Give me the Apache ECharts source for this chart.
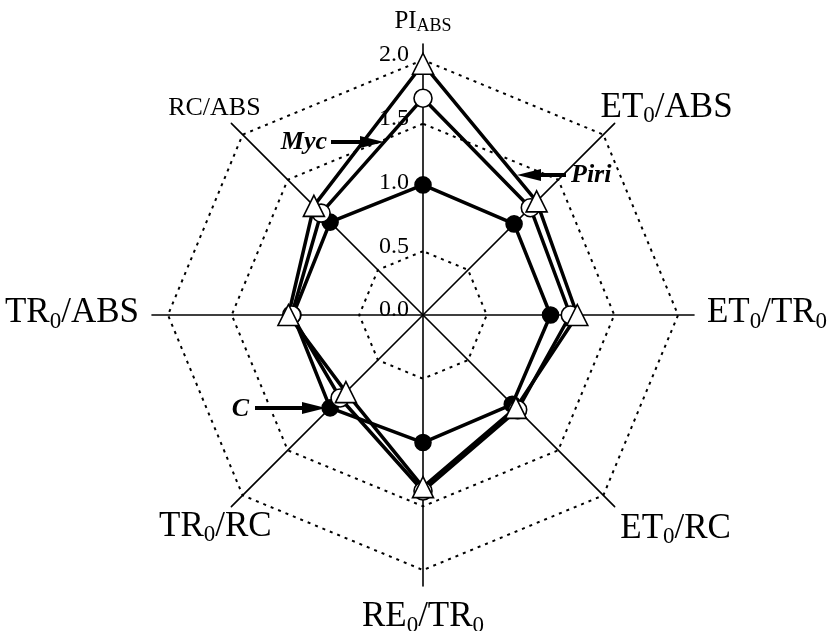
<!DOCTYPE html>
<html>
<head>
<meta charset="utf-8">
<script src="https://cdn.jsdelivr.net/npm/echarts@6/dist/echarts.min.js"></script>
<style>
  html, body { margin: 0; padding: 0; background: #fff; }
  #chart { width: 836px; height: 631px; }
</style>
</head>
<body>
<div id="chart"></div>
<script>
// Radar axes, listed counter-clockwise from the top (ECharts radar order)
const indicatorKeys = ['PI_ABS', 'RC/ABS', 'TR0/ABS', 'TR0/RC', 'RE0/TR0', 'ET0/RC', 'ET0/TR0', 'ET0/ABS'];
// Series values on each axis, same order
const valuesC    = [1.02, 1.03, 1.02, 1.03, 1.00, 0.99, 1.00, 1.01];
const valuesMyc  = [1.70, 1.13, 1.03, 0.92, 1.38, 1.05, 1.155, 1.19];
const valuesPiri = [1.97, 1.21, 1.055, 0.855, 1.35, 1.03, 1.21, 1.26];
// Dotted reference rings and scale labels
const ringLevels = [0.5, 1.5, 2.0];
const tickLabels = ['0.0', '0.5', '1.0', '1.5', '2.0'];
const tickStep = 0.5;
const axisMax = 2.125;

// Rich-text axis titles (subscripts as separate tokens)
const axisTitles = {
  'PI_ABS':  '{p|PI}{ps|ABS}',
  'RC/ABS':  '{r|RC/ABS}',
  'TR0/ABS': '{b|TR}{s|0}{b|/ABS}',
  'TR0/RC':  '{b|TR}{s|0}{b|/RC}',
  'RE0/TR0': '{b|RE}{s|0}{b|/TR}{s|0}',
  'ET0/RC':  '{b|ET}{s|0}{b|/RC}',
  'ET0/TR0': '{b|ET}{s|0}{b|/TR}{s|0}',
  'ET0/ABS': '{b|ET}{s|0}{b|/ABS}'
};

const SERIF = "'Liberation Serif', 'Times New Roman', 'DejaVu Serif', serif";
const CX = 423, CY = 315, R = 271;

// Title placement: offset of the title centre from the end of its axis
const titleOffsets = [
  [0, -23], [-17, -15], [-80, -2], [-16, 20],
  [0, 31], [61, 22], [73, -2], [52, -16]
];

const richStyles = {
  b:  { fontFamily: SERIF, fontSize: 35, lineHeight: 35, color: '#000' },
  s:  { fontFamily: SERIF, fontSize: 23, lineHeight: 23, padding: [17, 0, 0, 0], color: '#000' },
  p:  { fontFamily: SERIF, fontSize: 25, lineHeight: 25, color: '#000' },
  ps: { fontFamily: SERIF, fontSize: 18, lineHeight: 18, padding: [11, 0, 0, 0], color: '#000' },
  r:  { fontFamily: SERIF, fontSize: 26, lineHeight: 26, color: '#000' }
};

function axisEnd(i) {
  const a = (90 + i * 45) * Math.PI / 180;
  return [CX + R * Math.cos(a), CY - R * Math.sin(a)];
}

const titleGraphics = indicatorKeys.map((key, i) => {
  const e = axisEnd(i);
  return {
    type: 'text',
    x: e[0] + titleOffsets[i][0],
    y: e[1] + titleOffsets[i][1],
    style: {
      text: axisTitles[key],
      rich: richStyles,
      align: 'center',
      verticalAlign: 'middle'
    }
  };
});

// Arrow annotations naming each series
function arrow(label, textX, textY, x0, x1, y, align) {
  const dir = x1 > x0 ? 1 : -1;
  const head = 24;
  return [
    {
      type: 'text', x: textX, y: textY,
      style: {
        text: label, fill: '#000', align: align, verticalAlign: 'middle',
        font: 'italic bold 26px ' + SERIF
      }
    },
    {
      type: 'line',
      shape: { x1: x0, y1: y, x2: x1 - dir * head, y2: y },
      style: { stroke: '#000', lineWidth: 4 }
    },
    {
      type: 'polygon',
      shape: { points: [[x1, y], [x1 - dir * head, y - 6], [x1 - dir * head, y + 6]] },
      style: { fill: '#000' }
    }
  ];
}

const annotationGraphics = [].concat(
  arrow('Myc', 327, 142, 331, 384, 142, 'right'),
  arrow('Piri', 571, 175, 566, 517, 175, 'left'),
  arrow('C', 249, 409, 255, 326, 408, 'right')
);

const indicators = indicatorKeys.map((key, i) => {
  const ind = { name: key, min: 0, max: axisMax };
  if (i === 0) {
    ind.axisLabel = { show: true };
  }
  return ind;
});

const ringSeries = ringLevels.map(level => ({
  type: 'radar',
  silent: true,
  symbol: 'none',
  lineStyle: { color: '#000', width: 2, type: [3, 5] },
  data: [{ value: indicatorKeys.map(() => level) }],
  z: 1
}));

function dataSeries(name, values, symbol, size, fill) {
  return {
    type: 'radar',
    name: name,
    symbol: symbol,
    symbolSize: size,
    lineStyle: { color: '#000', width: 3.5 },
    itemStyle: { color: fill, borderColor: '#000', borderWidth: 1.6 },
    data: [{ value: values }],
    z: 3
  };
}

const chart = echarts.init(document.getElementById('chart'), null, { renderer: 'canvas' });
chart.setOption({
  backgroundColor: '#fff',
  animation: false,
  radar: {
    center: [CX, CY],
    radius: R,
    startAngle: 90,
    shape: 'polygon',
    splitNumber: 17,
    indicator: indicators,
    axisName: { show: false },
    axisLine: { lineStyle: { color: '#000', width: 1.6 } },
    axisTick: { show: false },
    splitLine: { show: false },
    splitArea: { show: false },
    axisLabel: {
      show: false,
      color: '#000',
      fontFamily: SERIF,
      fontSize: 24,
      lineHeight: 10,
      margin: 14,
      align: 'right',
      verticalAlign: 'bottom',
      formatter: function (v) {
        const k = Math.round(v / tickStep);
        if (Math.abs(v - k * tickStep) < 1e-6 && k < tickLabels.length) return tickLabels[k];
        return '';
      }
    }
  },
  series: ringSeries.concat([
    dataSeries('C', valuesC, 'circle', 16, '#000'),
    dataSeries('Myc', valuesMyc, 'circle', 18, '#fff'),
    dataSeries('Piri', valuesPiri, 'triangle', 21, '#fff')
  ]),
  graphic: titleGraphics.concat(annotationGraphics)
});
</script>
</body>
</html>
